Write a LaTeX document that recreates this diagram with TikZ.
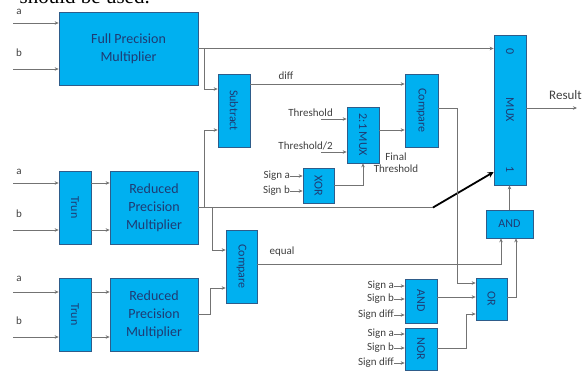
\documentclass[tikz,border=0pt]{standalone}
\usepackage{fontspec}
\usepackage{graphicx}
\setmainfont{Carlito}
\newfontfamily\seriffont{Liberation Serif}
\usetikzlibrary{arrows.meta,calc}
\definecolor{boxc}{HTML}{00B0F0}
\definecolor{bordc}{HTML}{2E5C8A}
\definecolor{txtc}{HTML}{1F3B73}
\definecolor{linec}{HTML}{737373}
\definecolor{labc}{HTML}{404040}
\tikzset{
  blk/.style={draw=bordc, fill=boxc, line width=0.7pt, inner sep=0pt, text=txtc, align=center},
  bigtxt/.style={font=\fontsize{14}{18}\selectfont},
  smtxt/.style={font=\fontsize{12}{13}\selectfont},
  arr/.style={draw=linec, line width=0.8pt, -{Stealth[length=4pt,width=3.5pt]}},
  ln/.style={draw=linec, line width=0.8pt},
  thickarr/.style={draw=black, line width=1.8pt, -{Stealth[length=6pt,width=6pt]}},
  lbl/.style={text=labc, font=\fontsize{11}{12}\selectfont, inner sep=0pt},
}
\begin{document}
\begin{tikzpicture}[x=1pt,y=-1pt]
\useasboundingbox (0,0) rectangle (587,372);

\node[anchor=base east, inner sep=0pt, font=\seriffont\fontsize{21}{21}\selectfont] (hdr) at (150,3.5) {\smash{should be used.}};

% blocks
\node[blk, bigtxt, minimum width=139pt, minimum height=73pt] (fpm) at (128.5,48.5) {Full Precision\\Multiplier};
\node[blk, smtxt, minimum width=32pt, minimum height=73pt] (sub) at (234,110.5) {\rotatebox{-90}{Subtract}};
\node[blk, smtxt, minimum width=33pt, minimum height=73pt] (cmp1) at (421.5,110.5) {\rotatebox{-90}{Compare}};
\node[blk, smtxt, minimum width=32pt, minimum height=56pt] (mux2) at (363,135) {\rotatebox{-90}{2:1 MUX}};
\node[blk, smtxt, minimum width=31pt, minimum height=35pt] (xor) at (318.5,185.5) {\rotatebox{-90}{XOR}};
\node[blk, smtxt, minimum width=32pt, minimum height=150pt] (mux) at (510,110) {\rotatebox{-90}{MUX}};
\node[text=txtc, smtxt, inner sep=0pt] (mux0) at (510,52) {\rotatebox{-90}{0}};
\node[text=txtc, smtxt, inner sep=0pt] (mux1) at (510,170) {\rotatebox{-90}{1}};
\node[blk, smtxt, minimum width=32pt, minimum height=73pt] (trun1) at (75,207.5) {\rotatebox{-90}{Trun}};
\node[blk, bigtxt, minimum width=88pt, minimum height=73pt] (rpm1) at (154,207.5) {Reduced\\Precision\\Multiplier};
\node[blk, smtxt, minimum width=32pt, minimum height=73pt] (trun2) at (75,314.5) {\rotatebox{-90}{Trun}};
\node[blk, bigtxt, minimum width=88pt, minimum height=73pt] (rpm2) at (154,314.5) {Reduced\\Precision\\Multiplier};
\node[blk, smtxt, minimum width=31pt, minimum height=73pt] (cmp2) at (241.5,266.5) {\rotatebox{-90}{Compare}};
\node[blk, font=\fontsize{12}{13}\selectfont, minimum width=47pt, minimum height=28pt] (andh) at (509.5,224) {AND};
\node[blk, smtxt, minimum width=32pt, minimum height=44pt] (and2) at (421,301) {\rotatebox{-90}{AND}};
\node[blk, smtxt, minimum width=32pt, minimum height=42pt] (nor) at (421,349) {\rotatebox{-90}{NOR}};
\node[blk, smtxt, minimum width=31pt, minimum height=42pt] (or) at (491.5,299) {\rotatebox{-90}{OR}};

% inputs a / b
\coordinate (ia1) at (13,23);  \coordinate (ib1) at (13,69);
\coordinate (ia2) at (13,183); \coordinate (ib2) at (13,230);
\coordinate (ia3) at (13,292); \coordinate (ib3) at (13,337);
\node[lbl] (la1) at (19,12) {a};  \node[lbl] (lb1) at (19,53) {b};
\node[lbl] (la2) at (19,172) {a}; \node[lbl] (lb2) at (19,214) {b};
\node[lbl] (la3) at (19,279) {a}; \node[lbl] (lb3) at (19,321) {b};
\draw[arr] (ia1) -- (ia1 -| fpm.west);
\draw[arr] (ib1) -- (ib1 -| fpm.west);
\draw[arr] (ia2) -- (ia2 -| trun1.west);
\draw[arr] (ib2) -- (ib2 -| trun1.west);
\draw[arr] (ia3) -- (ia3 -| trun2.west);
\draw[arr] (ib3) -- (ib3 -| trun2.west);
\draw[arr] (ia2 -| trun1.east) -- (ia2 -| rpm1.west);
\draw[arr] (ib2 -| trun1.east) -- (ib2 -| rpm1.west);
\draw[arr] (ia3 -| trun2.east) -- (ia3 -| rpm2.west);
\draw[arr] (ib3 -| trun2.east) -- (ib3 -| rpm2.west);

% full precision output
\draw[arr] (fpm.east) -- (fpm.east -| mux.west);
\coordinate (j1) at (204,48.5); \coordinate (k1) at (204,89);
\draw[arr] (j1) -- (k1) -- (k1 -| sub.west);

% reduced precision 1 output
\coordinate (r1) at (433,207.5);
\coordinate (m1) at (0,172);
\draw[ln] (rpm1.east) -- (r1);
\draw[thickarr] (r1) -- (mux.west |- m1);
\coordinate (j2) at (204,207.5); \coordinate (k2) at (204,130);
\draw[arr] (j2) -- (k2) -- (k2 -| sub.west);
\coordinate (j3) at (212,207.5); \coordinate (k3) at (212,250);
\draw[arr] (j3) -- (k3) -- (k3 -| cmp2.west);

% reduced precision 2 output
\coordinate (k4) at (210,314.5); \coordinate (k5) at (210,288);
\draw[arr] (rpm2.east) -- (k4) -- (k5) -- (k5 -| cmp2.west);

% diff
\coordinate (d1) at (250,84);
\draw[arr] (d1) -- (d1 -| cmp1.west);
\node[lbl] (ldiff) at (286,76) {diff};

% thresholds
\node[lbl, anchor=east] (th1) at (333,113) {Threshold};
\coordinate (t1) at (321,119);
\draw[arr] (t1) -- (t1 -| mux2.west);
\node[lbl, anchor=east] (th2) at (333,146) {Threshold/2};
\coordinate (t2) at (321,152);
\draw[arr] (t2) -- (t2 -| mux2.west);
\coordinate (m2) at (379,130);
\draw[arr] (m2) -- (m2 -| cmp1.west);

% xor
\node[lbl, anchor=east] (xsa) at (290,176) {Sign a};
\node[lbl, anchor=east] (xsb) at (290,191) {Sign b};
\draw[arr] (xsa.east) -- (xsa.east -| xor.west);
\draw[arr] (xsb.east) -- (xsb.east -| xor.west);
\coordinate (x1) at (334,185); \coordinate (x2) at (363,185);
\draw[arr] (x1) -- (x2) -- (mux2.south);
\node[lbl, align=center] (fth) at (396,163) {Final\\Threshold};

% compare 1 output to OR
\coordinate (c1) at (438,108); \coordinate (c2) at (457,108); \coordinate (c3) at (457,283);
\draw[arr] (c1) -- (c2) -- (c3) -- (c3 -| or.west);

% equal
\coordinate (e1) at (257,264); \coordinate (e2) at (501,264);
\draw[arr] (e1) -- (e2) -- (e2 |- andh.south);
\node[lbl] (leq) at (282,252) {equal};

% OR -> AND -> MUX
\coordinate (o1) at (507,297); \coordinate (o2) at (516,297);
\draw[arr] (o1) -- (o2) -- (o2 |- andh.south);
\draw[arr] (andh.north) -- (andh.north |- mux.south);

% AND / NOR inputs
\node[lbl, anchor=east] (asa) at (394,286) {Sign a};
\node[lbl, anchor=east] (asb) at (394,299) {Sign b};
\node[lbl, anchor=east] (asd) at (394,315) {Sign diff};
\node[lbl, anchor=east] (nsa) at (394,334) {Sign a};
\node[lbl, anchor=east] (nsb) at (394,348) {Sign b};
\node[lbl, anchor=east] (nsd) at (394,363) {Sign diff};
\foreach \s in {asa,asb,asd} \draw[arr] (\s.east) -- (\s.east -| and2.west);
\foreach \s in {nsa,nsb,nsd} \draw[arr] (\s.east) -- (\s.east -| nor.west);
\coordinate (a1) at (437,297);
\draw[arr] (a1) -- (a1 -| or.west);
\coordinate (n1) at (437,348); \coordinate (n2) at (466,348); \coordinate (n3) at (466,314);
\draw[arr] (n1) -- (n2) -- (n3) -- (n3 -| or.west);

% result
\coordinate (mo) at (577,108);
\draw[arr] (mux.east |- mo) -- (mo);
\node[lbl, anchor=west, font=\fontsize{13}{14}\selectfont] (res) at (549,95) {Result};
\end{tikzpicture}
\end{document}
